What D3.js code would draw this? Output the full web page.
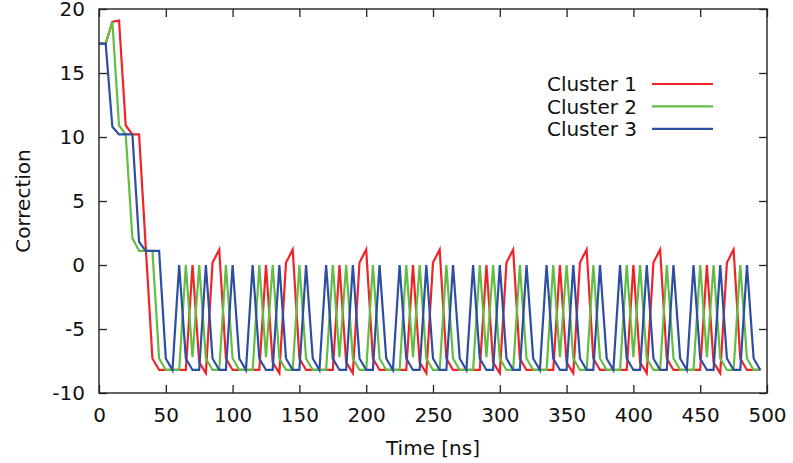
<!DOCTYPE html>
<html>
<head>
<meta charset="utf-8">
<script src="https://cdn.jsdelivr.net/npm/d3@7"></script>
<style>
  body { margin: 0; background: #fff; }
  text { font-family: "DejaVu Sans", sans-serif; fill: #111; }
</style>
</head>
<body>
<div class="chart"></div>
<script>
// time axis in ns, one sample every 5 ns
const time = [
  0, 5, 10, 15, 20, 25, 30, 35, 40, 45,
  50, 55, 60, 65, 70, 75, 80, 85, 90, 95,
  100, 105, 110, 115, 120, 125, 130, 135, 140, 145,
  150, 155, 160, 165, 170, 175, 180, 185, 190, 195,
  200, 205, 210, 215, 220, 225, 230, 235, 240, 245,
  250, 255, 260, 265, 270, 275, 280, 285, 290, 295,
  300, 305, 310, 315, 320, 325, 330, 335, 340, 345,
  350, 355, 360, 365, 370, 375, 380, 385, 390, 395,
  400, 405, 410, 415, 420, 425, 430, 435, 440, 445,
  450, 455, 460, 465, 470, 475, 480, 485, 490, 495
];

const cluster1 = [
  17.3, 17.3, 19.0, 19.1, 10.9, 10.2, 10.2, 1.4, -7.3, -8.2,
  -8.2, -8.2, -8.2, -8.2, 0, -7.6, -8.45, 0.2, 1.2, -7.3,
  -8.2, -8.2, -8.2, -8.2, -8.2, 0, -7.6, -8.45, 0.2, 1.2,
  -7.3, -8.2, -8.2, -8.2, -8.2, -8.2, 0, -7.6, -8.45, 0.2,
  1.2, -7.3, -8.2, -8.2, -8.2, -8.2, -8.2, 0, -7.6, -8.45,
  0.2, 1.2, -7.3, -8.2, -8.2, -8.2, -8.2, -8.2, 0, -7.6,
  -8.45, 0.2, 1.2, -7.3, -8.2, -8.2, -8.2, -8.2, -8.2, 0,
  -7.6, -8.45, 0.2, 1.2, -7.3, -8.2, -8.2, -8.2, -8.2, -8.2,
  0, -7.6, -8.45, 0.2, 1.2, -7.3, -8.2, -8.2, -8.2, -8.2,
  -8.2, 0, -7.6, -8.45, 0.2, 1.2, -7.3, -8.2, -8.2, -8.2
];

const cluster2 = [
  17.3, 17.3, 19.0, 10.9, 10.2, 2.1, 1.1, 1.1, 1.1, -7.3,
  -8.2, -8.2, -8.2, 0, -7.2, 0, -7.3, -8.2, -8.2, 0,
  -7.3, -8.2, -8.2, -8.2, 0, -7.2, 0, -7.3, -8.2, -8.2,
  0, -7.3, -8.2, -8.2, -8.2, 0, -7.2, 0, -7.3, -8.2,
  -8.2, 0, -7.3, -8.2, -8.2, -8.2, 0, -7.2, 0, -7.3,
  -8.2, -8.2, 0, -7.3, -8.2, -8.2, -8.2, 0, -7.2, 0,
  -7.3, -8.2, -8.2, 0, -7.3, -8.2, -8.2, -8.2, 0, -7.2,
  0, -7.3, -8.2, -8.2, 0, -7.3, -8.2, -8.2, -8.2, 0,
  -7.2, 0, -7.3, -8.2, -8.2, 0, -7.3, -8.2, -8.2, -8.2,
  0, -7.2, 0, -7.3, -8.2, -8.2, 0, -7.3, -8.2, -8.2
];

const cluster3 = [
  17.3, 17.3, 10.8, 10.2, 10.2, 10.2, 1.8, 1.1, 1.1, 1.1,
  -7.3, -8.2, 0, -7.3, -8.2, -8.2, 0, -7.3, -8.2, -8.2,
  0, -7.3, -8.2, 0, -7.3, -8.2, -8.2, 0, -7.3, -8.2,
  -8.2, 0, -7.3, -8.2, 0, -7.3, -8.2, -8.2, 0, -7.3,
  -8.2, -8.2, 0, -7.3, -8.2, 0, -7.3, -8.2, -8.2, 0,
  -7.3, -8.2, -8.2, 0, -7.3, -8.2, 0, -7.3, -8.2, -8.2,
  0, -7.3, -8.2, -8.2, 0, -7.3, -8.2, 0, -7.3, -8.2,
  -8.2, 0, -7.3, -8.2, -8.2, 0, -7.3, -8.2, 0, -7.3,
  -8.2, -8.2, 0, -7.3, -8.2, -8.2, 0, -7.3, -8.2, 0,
  -7.3, -8.2, -8.2, 0, -7.3, -8.2, -8.2, 0, -7.3, -8.2
];

const seriesNames = ["Cluster 1", "Cluster 2", "Cluster 3"];
const xTicks = [0, 50, 100, 150, 200, 250, 300, 350, 400, 450, 500];
const yTicks = [-10, -5, 0, 5, 10, 15, 20];

const colors = ["#ee2428", "#62bd45", "#2e4ea2"];
const series = [cluster1, cluster2, cluster3];

const margin = {top: 9, right: 26, bottom: 70, left: 99},
    W = 793, H = 463,
    width = W - margin.left - margin.right,
    height = H - margin.top - margin.bottom;

const svg = d3.select(".chart")
  .append("svg")
    .attr("width", W)
    .attr("height", H)
    .style("display", "block")
  .append("g")
    .attr("transform", "translate(" + margin.left + "," + margin.top + ")");

const xScale = d3.scaleLinear().domain([0, 500]).range([0, width]);
const yScale = d3.scaleLinear().domain([-10, 20]).range([height, 0]);

// plain hyphen for negative numbers, like the original
const plain = function(d){ return String(d); };

// axes with ticks pointing inwards, mirrored on top and right
const xAxis = svg.append("g")
  .attr("transform", "translate(0," + height + ")")
  .call(d3.axisBottom(xScale).tickValues(xTicks).tickSize(-8).tickPadding(15).tickFormat(plain));
const yAxis = svg.append("g")
  .call(d3.axisLeft(yScale).tickValues(yTicks).tickSize(-8).tickPadding(14).tickFormat(plain));
const xTop = svg.append("g")
  .call(d3.axisTop(xScale).tickValues(xTicks).tickSize(-8).tickFormat(""));
const yRight = svg.append("g")
  .attr("transform", "translate(" + width + ",0)")
  .call(d3.axisRight(yScale).tickValues(yTicks).tickSize(-8).tickFormat(""));

[xAxis, yAxis, xTop, yRight].forEach(function(a){
  a.select(".domain").remove();
  a.selectAll(".tick line").attr("stroke", "#222").attr("stroke-width", 1.3);
  a.selectAll(".tick text")
    .style("font-family", '"DejaVu Sans", sans-serif')
    .style("font-size", "20px")
    .attr("fill", "#111");
});

// lines
const line = d3.line()
  .x(function(d, i){ return xScale(time[i]); })
  .y(function(d){ return yScale(d); });

series.forEach(function(s, k){
  svg.append("path")
    .datum(s)
    .attr("fill", "none")
    .attr("stroke", colors[k])
    .attr("stroke-width", 2.2)
    .attr("d", line);
});

// plot border
svg.append("rect")
  .attr("x", 0).attr("y", 0)
  .attr("width", width).attr("height", height)
  .attr("fill", "none")
  .attr("stroke", "#222")
  .attr("stroke-width", 1.4);

// legend
const legend = svg.append("g").attr("transform", "translate(" + (637 - margin.left) + "," + (84 - margin.top) + ")");
seriesNames.forEach(function(name, k){
  const row = legend.append("g").attr("transform", "translate(0," + (k * 22.4) + ")");
  row.append("text")
    .attr("text-anchor", "end")
    .attr("dy", "0.36em")
    .style("font-size", "20px")
    .text(name);
  row.append("line")
    .attr("x1", 15).attr("x2", 76)
    .attr("stroke", colors[k])
    .attr("stroke-width", 2.2);
});

// axis titles
svg.append("text")
  .attr("x", width / 2)
  .attr("y", height + 62)
  .attr("text-anchor", "middle")
  .style("font-size", "20px")
  .text("Time [ns]");

svg.append("text")
  .attr("transform", "translate(" + (30 - margin.left) + "," + (height / 2) + ") rotate(-90)")
  .attr("text-anchor", "middle")
  .style("font-size", "20px")
  .text("Correction");
</script>
</body>
</html>
